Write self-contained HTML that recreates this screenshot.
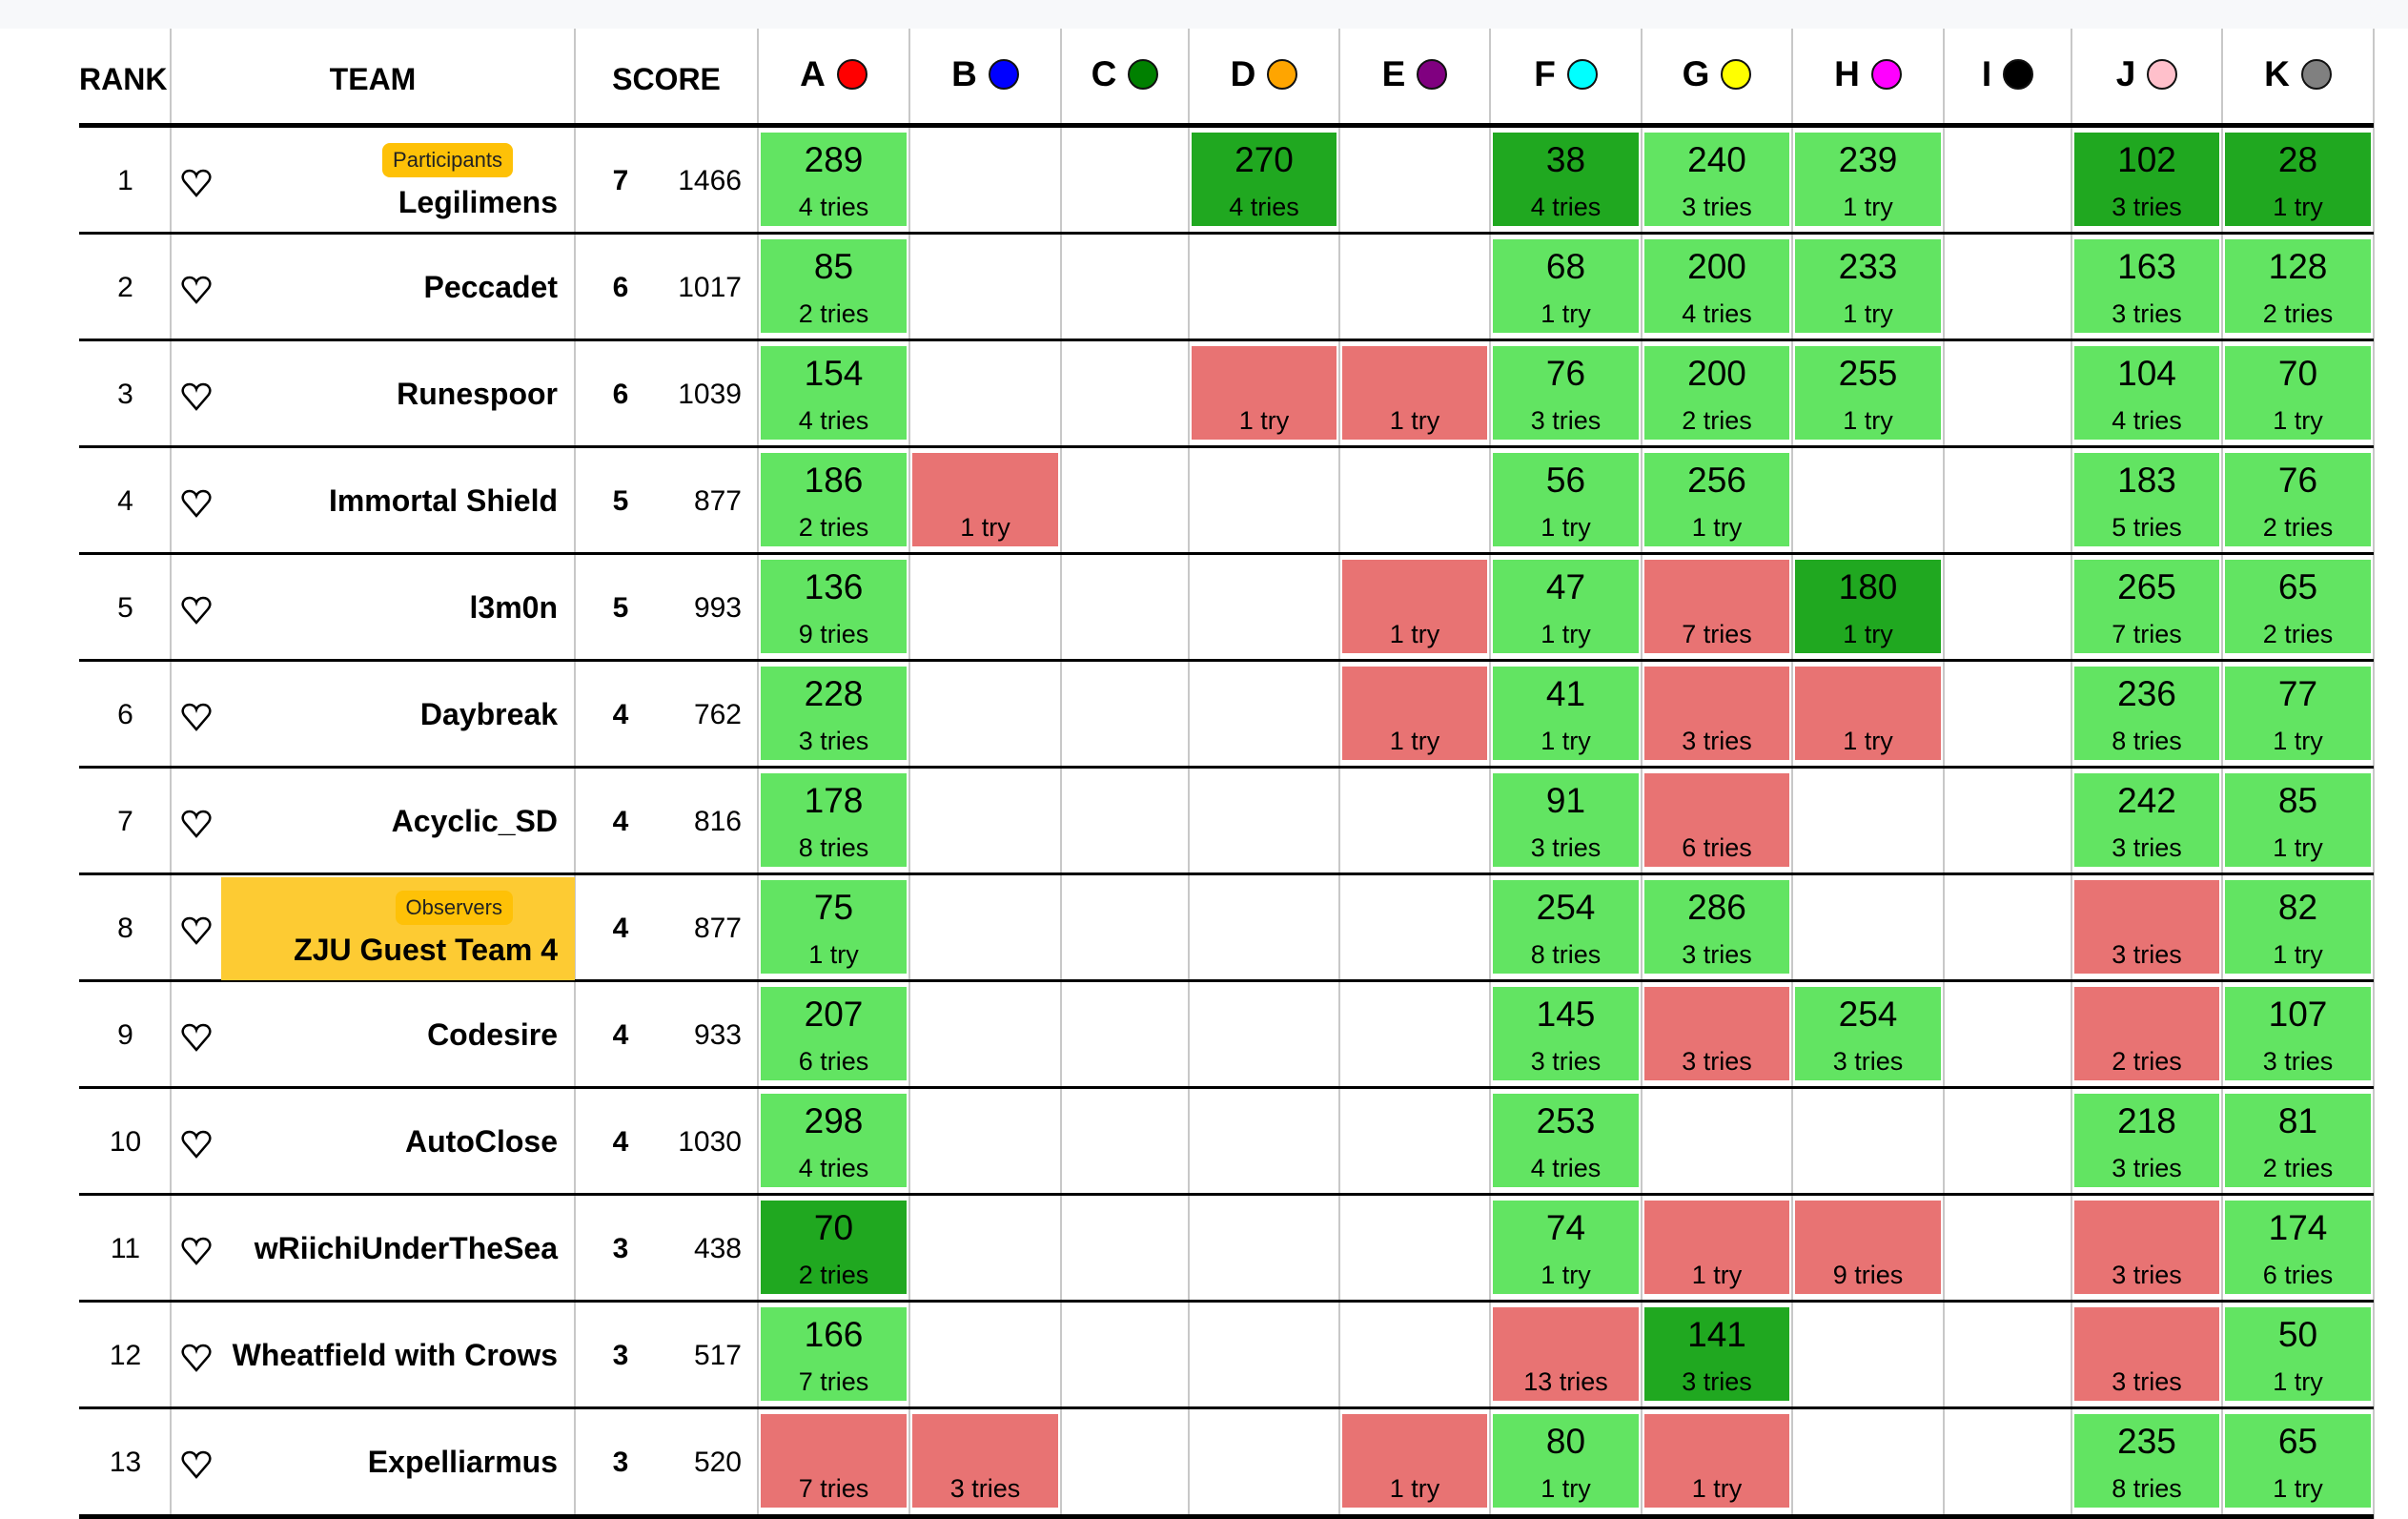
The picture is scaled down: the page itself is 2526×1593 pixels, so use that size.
<!DOCTYPE html>
<html><head><meta charset="utf-8">
<style>
*{margin:0;padding:0;box-sizing:border-box}
body{width:2526px;height:1593px;background:#fff;position:relative;overflow:hidden;font-family:"Liberation Sans",Arial,sans-serif;color:#000}
.band{position:absolute;left:0;top:0;width:2526px;height:30px;background:#f7f8fa}
.v{position:absolute;top:30px;height:1563px;width:2px;background:#c8c8c8}
.h{position:absolute;left:83px;width:2407px;height:3px;background:#000}
.hd{position:absolute;top:0;height:129px;font-weight:bold;font-size:32px;line-height:32px}
.hd span{position:absolute;top:67px}
.lh{position:absolute;top:58px;height:40px;display:flex;align-items:center;justify-content:center;gap:12px;font-weight:bold;font-size:37px}
.dot{width:32px;height:32px;border-radius:50%;border:2px solid #111;display:inline-block}
.r{position:absolute;left:0;width:2526px;height:110px}
.rk{position:absolute;left:84px;width:95px;text-align:center;top:41px;font-size:30px;line-height:30px}
.ht{position:absolute;left:190px;top:43px}
.nm{position:absolute;right:1941px;top:39px;font-size:32px;line-height:32px;font-weight:bold;white-space:nowrap}
.nm.b{top:62px}
.bd{position:absolute;right:1988px;top:16px;height:36px;line-height:36px;padding:0 11px;border-radius:8px;background:#fec107;font-size:22px;color:#222}
.sv{position:absolute;left:630px;width:42px;text-align:center;top:41px;font-size:30px;line-height:30px;font-weight:bold}
.sc{position:absolute;right:1748px;top:41px;font-size:30px;line-height:30px}
.yl{position:absolute;left:232px;width:371px;top:2px;height:108px;background:#fdcb33}
.c{position:absolute;top:5px;height:98px}
.c .n{position:absolute;left:0;right:0;text-align:center;top:10px;font-size:37px;line-height:37px}
.c .t{position:absolute;left:0;right:0;text-align:center;top:65px;font-size:27px;line-height:27px}
.g{background:#62e462}.d{background:#20a820}.x{background:#e87373}
.A{left:798px;width:153px}.B{left:957px;width:153px}.C{left:1116px;width:128px}.D{left:1250px;width:152px}.E{left:1408px;width:152px}
.F{left:1566px;width:153px}.G{left:1725px;width:152px}.H{left:1883px;width:153px}.I{left:2042px;width:128px}.J{left:2176px;width:152px}.K{left:2334px;width:153px}
</style></head><body>
<div class="band"></div>
<div class="v" style="left:178px"></div><div class="v" style="left:602px"></div><div class="v" style="left:794px"></div><div class="v" style="left:953px"></div><div class="v" style="left:1112px"></div><div class="v" style="left:1246px"></div><div class="v" style="left:1404px"></div><div class="v" style="left:1562px"></div><div class="v" style="left:1721px"></div><div class="v" style="left:1879px"></div><div class="v" style="left:2038px"></div><div class="v" style="left:2172px"></div><div class="v" style="left:2330px"></div><div class="v" style="left:2489px"></div>

<div class="hd" style="left:83px;width:96px"><span style="left:0">RANK</span></div>
<div class="hd" style="left:179px;width:424px;text-align:center"><span style="left:0;right:0">TEAM</span></div>
<div class="hd" style="left:603px;width:192px;text-align:center"><span style="left:0;right:0">SCORE</span></div>
<div class="lh" style="left:795px;width:159px">A<i class="dot" style="background:#f00"></i></div>
<div class="lh" style="left:954px;width:159px">B<i class="dot" style="background:#00f"></i></div>
<div class="lh" style="left:1113px;width:134px">C<i class="dot" style="background:#008000"></i></div>
<div class="lh" style="left:1247px;width:158px">D<i class="dot" style="background:#ffa500"></i></div>
<div class="lh" style="left:1405px;width:158px">E<i class="dot" style="background:#800080"></i></div>
<div class="lh" style="left:1563px;width:159px">F<i class="dot" style="background:#0ff"></i></div>
<div class="lh" style="left:1722px;width:158px">G<i class="dot" style="background:#ff0"></i></div>
<div class="lh" style="left:1880px;width:159px">H<i class="dot" style="background:#f0f"></i></div>
<div class="lh" style="left:2039px;width:134px">I<i class="dot" style="background:#000"></i></div>
<div class="lh" style="left:2173px;width:158px">J<i class="dot" style="background:#ffc0cb"></i></div>
<div class="lh" style="left:2331px;width:159px">K<i class="dot" style="background:#808080"></i></div>

<div class="h" style="top:129px;height:5px"></div>
<div class="h" style="top:243px"></div><div class="h" style="top:355px"></div><div class="h" style="top:467px"></div><div class="h" style="top:579px"></div><div class="h" style="top:691px"></div><div class="h" style="top:803px"></div><div class="h" style="top:915px"></div><div class="h" style="top:1027px"></div><div class="h" style="top:1139px"></div><div class="h" style="top:1251px"></div><div class="h" style="top:1363px"></div><div class="h" style="top:1475px"></div>
<div class="h" style="top:1588px;height:5px"></div>

<!-- row 1 -->
<div class="r" style="top:134px">
<div class="rk">1</div><svg class="ht" width="32" height="30" viewBox="0 0 32 30"><path d="M16 28 L4 14 C-1 8 3 2 9 2 C12 2 15 4 16 7 C17 4 20 2 23 2 C29 2 33 8 28 14 Z" fill="none" stroke="#000" stroke-width="2.5"/></svg>
<div class="bd">Participants</div><div class="nm b">Legilimens</div><div class="sv">7</div><div class="sc">1466</div>
<div class="c g A"><div class="n">289</div><div class="t">4 tries</div></div>
<div class="c d D"><div class="n">270</div><div class="t">4 tries</div></div>
<div class="c d F"><div class="n">38</div><div class="t">4 tries</div></div>
<div class="c g G"><div class="n">240</div><div class="t">3 tries</div></div>
<div class="c g H"><div class="n">239</div><div class="t">1 try</div></div>
<div class="c d J"><div class="n">102</div><div class="t">3 tries</div></div>
<div class="c d K"><div class="n">28</div><div class="t">1 try</div></div>
</div>
<!-- row 2 -->
<div class="r" style="top:246px">
<div class="rk">2</div><svg class="ht" width="32" height="30" viewBox="0 0 32 30"><path d="M16 28 L4 14 C-1 8 3 2 9 2 C12 2 15 4 16 7 C17 4 20 2 23 2 C29 2 33 8 28 14 Z" fill="none" stroke="#000" stroke-width="2.5"/></svg>
<div class="nm">Peccadet</div><div class="sv">6</div><div class="sc">1017</div>
<div class="c g A"><div class="n">85</div><div class="t">2 tries</div></div>
<div class="c g F"><div class="n">68</div><div class="t">1 try</div></div>
<div class="c g G"><div class="n">200</div><div class="t">4 tries</div></div>
<div class="c g H"><div class="n">233</div><div class="t">1 try</div></div>
<div class="c g J"><div class="n">163</div><div class="t">3 tries</div></div>
<div class="c g K"><div class="n">128</div><div class="t">2 tries</div></div>
</div>
<!-- row 3 -->
<div class="r" style="top:358px">
<div class="rk">3</div><svg class="ht" width="32" height="30" viewBox="0 0 32 30"><path d="M16 28 L4 14 C-1 8 3 2 9 2 C12 2 15 4 16 7 C17 4 20 2 23 2 C29 2 33 8 28 14 Z" fill="none" stroke="#000" stroke-width="2.5"/></svg>
<div class="nm">Runespoor</div><div class="sv">6</div><div class="sc">1039</div>
<div class="c g A"><div class="n">154</div><div class="t">4 tries</div></div>
<div class="c x D"><div class="t">1 try</div></div>
<div class="c x E"><div class="t">1 try</div></div>
<div class="c g F"><div class="n">76</div><div class="t">3 tries</div></div>
<div class="c g G"><div class="n">200</div><div class="t">2 tries</div></div>
<div class="c g H"><div class="n">255</div><div class="t">1 try</div></div>
<div class="c g J"><div class="n">104</div><div class="t">4 tries</div></div>
<div class="c g K"><div class="n">70</div><div class="t">1 try</div></div>
</div>
<!-- row 4 -->
<div class="r" style="top:470px">
<div class="rk">4</div><svg class="ht" width="32" height="30" viewBox="0 0 32 30"><path d="M16 28 L4 14 C-1 8 3 2 9 2 C12 2 15 4 16 7 C17 4 20 2 23 2 C29 2 33 8 28 14 Z" fill="none" stroke="#000" stroke-width="2.5"/></svg>
<div class="nm">Immortal Shield</div><div class="sv">5</div><div class="sc">877</div>
<div class="c g A"><div class="n">186</div><div class="t">2 tries</div></div>
<div class="c x B"><div class="t">1 try</div></div>
<div class="c g F"><div class="n">56</div><div class="t">1 try</div></div>
<div class="c g G"><div class="n">256</div><div class="t">1 try</div></div>
<div class="c g J"><div class="n">183</div><div class="t">5 tries</div></div>
<div class="c g K"><div class="n">76</div><div class="t">2 tries</div></div>
</div>
<!-- row 5 -->
<div class="r" style="top:582px">
<div class="rk">5</div><svg class="ht" width="32" height="30" viewBox="0 0 32 30"><path d="M16 28 L4 14 C-1 8 3 2 9 2 C12 2 15 4 16 7 C17 4 20 2 23 2 C29 2 33 8 28 14 Z" fill="none" stroke="#000" stroke-width="2.5"/></svg>
<div class="nm">l3m0n</div><div class="sv">5</div><div class="sc">993</div>
<div class="c g A"><div class="n">136</div><div class="t">9 tries</div></div>
<div class="c x E"><div class="t">1 try</div></div>
<div class="c g F"><div class="n">47</div><div class="t">1 try</div></div>
<div class="c x G"><div class="t">7 tries</div></div>
<div class="c d H"><div class="n">180</div><div class="t">1 try</div></div>
<div class="c g J"><div class="n">265</div><div class="t">7 tries</div></div>
<div class="c g K"><div class="n">65</div><div class="t">2 tries</div></div>
</div>
<!-- row 6 -->
<div class="r" style="top:694px">
<div class="rk">6</div><svg class="ht" width="32" height="30" viewBox="0 0 32 30"><path d="M16 28 L4 14 C-1 8 3 2 9 2 C12 2 15 4 16 7 C17 4 20 2 23 2 C29 2 33 8 28 14 Z" fill="none" stroke="#000" stroke-width="2.5"/></svg>
<div class="nm">Daybreak</div><div class="sv">4</div><div class="sc">762</div>
<div class="c g A"><div class="n">228</div><div class="t">3 tries</div></div>
<div class="c x E"><div class="t">1 try</div></div>
<div class="c g F"><div class="n">41</div><div class="t">1 try</div></div>
<div class="c x G"><div class="t">3 tries</div></div>
<div class="c x H"><div class="t">1 try</div></div>
<div class="c g J"><div class="n">236</div><div class="t">8 tries</div></div>
<div class="c g K"><div class="n">77</div><div class="t">1 try</div></div>
</div>
<!-- row 7 -->
<div class="r" style="top:806px">
<div class="rk">7</div><svg class="ht" width="32" height="30" viewBox="0 0 32 30"><path d="M16 28 L4 14 C-1 8 3 2 9 2 C12 2 15 4 16 7 C17 4 20 2 23 2 C29 2 33 8 28 14 Z" fill="none" stroke="#000" stroke-width="2.5"/></svg>
<div class="nm">Acyclic_SD</div><div class="sv">4</div><div class="sc">816</div>
<div class="c g A"><div class="n">178</div><div class="t">8 tries</div></div>
<div class="c g F"><div class="n">91</div><div class="t">3 tries</div></div>
<div class="c x G"><div class="t">6 tries</div></div>
<div class="c g J"><div class="n">242</div><div class="t">3 tries</div></div>
<div class="c g K"><div class="n">85</div><div class="t">1 try</div></div>
</div>
<!-- row 8 -->
<div class="r" style="top:918px">
<div class="yl"></div>
<div class="rk">8</div><svg class="ht" width="32" height="30" viewBox="0 0 32 30"><path d="M16 28 L4 14 C-1 8 3 2 9 2 C12 2 15 4 16 7 C17 4 20 2 23 2 C29 2 33 8 28 14 Z" fill="none" stroke="#000" stroke-width="2.5"/></svg>
<div class="bd">Observers</div><div class="nm b">ZJU Guest Team 4</div><div class="sv">4</div><div class="sc">877</div>
<div class="c g A"><div class="n">75</div><div class="t">1 try</div></div>
<div class="c g F"><div class="n">254</div><div class="t">8 tries</div></div>
<div class="c g G"><div class="n">286</div><div class="t">3 tries</div></div>
<div class="c x J"><div class="t">3 tries</div></div>
<div class="c g K"><div class="n">82</div><div class="t">1 try</div></div>
</div>
<!-- row 9 -->
<div class="r" style="top:1030px">
<div class="rk">9</div><svg class="ht" width="32" height="30" viewBox="0 0 32 30"><path d="M16 28 L4 14 C-1 8 3 2 9 2 C12 2 15 4 16 7 C17 4 20 2 23 2 C29 2 33 8 28 14 Z" fill="none" stroke="#000" stroke-width="2.5"/></svg>
<div class="nm">Codesire</div><div class="sv">4</div><div class="sc">933</div>
<div class="c g A"><div class="n">207</div><div class="t">6 tries</div></div>
<div class="c g F"><div class="n">145</div><div class="t">3 tries</div></div>
<div class="c x G"><div class="t">3 tries</div></div>
<div class="c g H"><div class="n">254</div><div class="t">3 tries</div></div>
<div class="c x J"><div class="t">2 tries</div></div>
<div class="c g K"><div class="n">107</div><div class="t">3 tries</div></div>
</div>
<!-- row 10 -->
<div class="r" style="top:1142px">
<div class="rk">10</div><svg class="ht" width="32" height="30" viewBox="0 0 32 30"><path d="M16 28 L4 14 C-1 8 3 2 9 2 C12 2 15 4 16 7 C17 4 20 2 23 2 C29 2 33 8 28 14 Z" fill="none" stroke="#000" stroke-width="2.5"/></svg>
<div class="nm">AutoClose</div><div class="sv">4</div><div class="sc">1030</div>
<div class="c g A"><div class="n">298</div><div class="t">4 tries</div></div>
<div class="c g F"><div class="n">253</div><div class="t">4 tries</div></div>
<div class="c g J"><div class="n">218</div><div class="t">3 tries</div></div>
<div class="c g K"><div class="n">81</div><div class="t">2 tries</div></div>
</div>
<!-- row 11 -->
<div class="r" style="top:1254px">
<div class="rk">11</div><svg class="ht" width="32" height="30" viewBox="0 0 32 30"><path d="M16 28 L4 14 C-1 8 3 2 9 2 C12 2 15 4 16 7 C17 4 20 2 23 2 C29 2 33 8 28 14 Z" fill="none" stroke="#000" stroke-width="2.5"/></svg>
<div class="nm">wRiichiUnderTheSea</div><div class="sv">3</div><div class="sc">438</div>
<div class="c d A"><div class="n">70</div><div class="t">2 tries</div></div>
<div class="c g F"><div class="n">74</div><div class="t">1 try</div></div>
<div class="c x G"><div class="t">1 try</div></div>
<div class="c x H"><div class="t">9 tries</div></div>
<div class="c x J"><div class="t">3 tries</div></div>
<div class="c g K"><div class="n">174</div><div class="t">6 tries</div></div>
</div>
<!-- row 12 -->
<div class="r" style="top:1366px">
<div class="rk">12</div><svg class="ht" width="32" height="30" viewBox="0 0 32 30"><path d="M16 28 L4 14 C-1 8 3 2 9 2 C12 2 15 4 16 7 C17 4 20 2 23 2 C29 2 33 8 28 14 Z" fill="none" stroke="#000" stroke-width="2.5"/></svg>
<div class="nm">Wheatfield with Crows</div><div class="sv">3</div><div class="sc">517</div>
<div class="c g A"><div class="n">166</div><div class="t">7 tries</div></div>
<div class="c x F"><div class="t">13 tries</div></div>
<div class="c d G"><div class="n">141</div><div class="t">3 tries</div></div>
<div class="c x J"><div class="t">3 tries</div></div>
<div class="c g K"><div class="n">50</div><div class="t">1 try</div></div>
</div>
<!-- row 13 -->
<div class="r" style="top:1478px">
<div class="rk">13</div><svg class="ht" width="32" height="30" viewBox="0 0 32 30"><path d="M16 28 L4 14 C-1 8 3 2 9 2 C12 2 15 4 16 7 C17 4 20 2 23 2 C29 2 33 8 28 14 Z" fill="none" stroke="#000" stroke-width="2.5"/></svg>
<div class="nm">Expelliarmus</div><div class="sv">3</div><div class="sc">520</div>
<div class="c x A"><div class="t">7 tries</div></div>
<div class="c x B"><div class="t">3 tries</div></div>
<div class="c x E"><div class="t">1 try</div></div>
<div class="c g F"><div class="n">80</div><div class="t">1 try</div></div>
<div class="c x G"><div class="t">1 try</div></div>
<div class="c g J"><div class="n">235</div><div class="t">8 tries</div></div>
<div class="c g K"><div class="n">65</div><div class="t">1 try</div></div>
</div>
</body></html>
